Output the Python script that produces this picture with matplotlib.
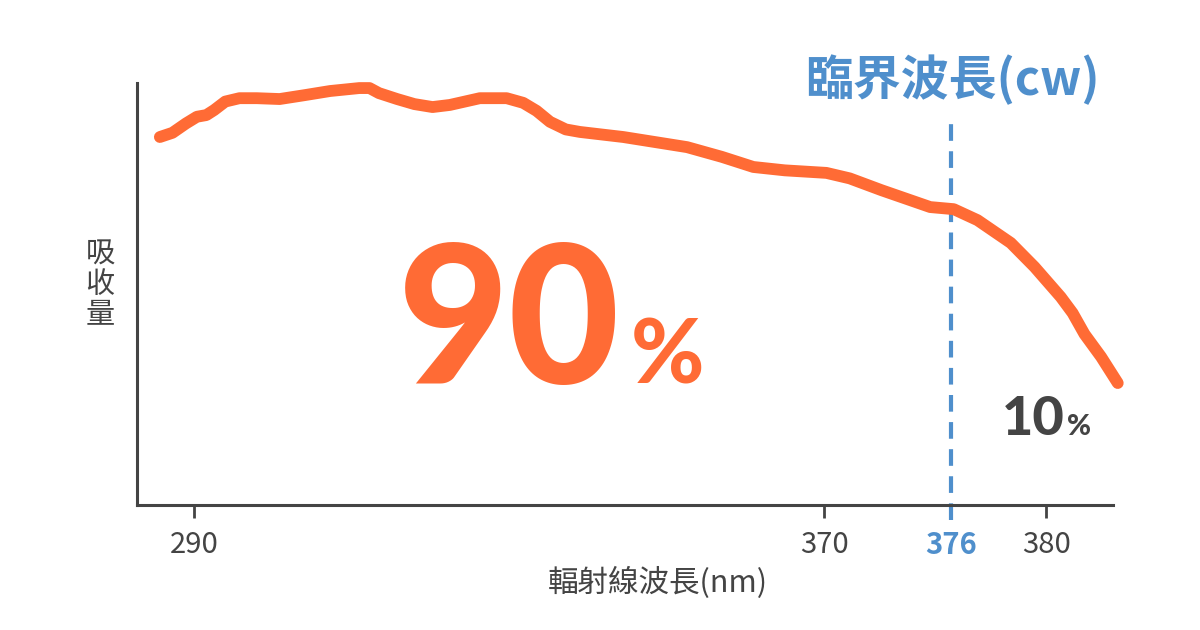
import numpy as np
import matplotlib
matplotlib.use("Agg")
import matplotlib.pyplot as plt

plt.rcParams['font.family'] = ['Noto Sans CJK TC', 'DejaVu Sans']

# absorption curve (wavelength nm, relative absorbance 0-100)
wavelength = [285.7, 287.3, 289.0, 290.4, 291.6, 292.6, 294.0, 295.8, 298.0, 300.9,
              304.0, 307.3, 311.0, 312.3, 313.5, 315.8, 318.0, 320.3, 322.5, 326.3,
              329.7, 331.8, 333.5, 335.2, 337.2, 339.0, 344.5, 352.6, 357.0, 361.0,
              365.0, 370.1, 371.2, 372.7, 375.0, 376.1, 377.1, 378.5, 379.5, 380.6,
              381.1, 381.6, 382.3, 383.0]
absorb = [87.2, 88.2, 90.4, 92.0, 92.4, 93.6, 95.6, 96.4, 96.4, 96.2,
          97.1, 98.1, 98.8, 98.8, 97.6, 96.2, 95.0, 94.3, 94.8, 96.4,
          96.4, 95.3, 93.4, 90.8, 89.0, 88.4, 87.2, 84.8, 82.5, 80.1,
          79.3, 78.7, 77.4, 74.6, 70.6, 70.1, 67.5, 62.1, 56.4, 49.3,
          45.5, 40.5, 35.1, 28.9]
ticks = [290, 370, 380]
cw = 376

ORANGE = '#FF6B35'
BLUE = '#4F8FCC'
GRAY = '#444444'

# the original axis is stretched near the critical wavelength
knots = np.array([290, 370, 376, 380])
pos = np.array([0, 630, 757, 852])


def fwd(w):
    w = np.asarray(w, dtype=float)
    return np.where(w < 290, (w - 290) * 7.875,
                    np.where(w > 380, 852 + (w - 380) * 23.75, np.interp(w, knots, pos)))


def inv(p):
    p = np.asarray(p, dtype=float)
    return np.where(p < 0, 290 + p / 7.875,
                    np.where(p > 852, 380 + (p - 852) / 23.75, np.interp(p, pos, knots)))


fig = plt.figure(figsize=(12, 6.3), dpi=100)
W, H = 1200, 630
ax = fig.add_axes([137 / W, 1 - 505 / H, (1113 - 137) / W, (505 - 83) / H])
ax.set_xscale('function', functions=(fwd, inv))
ax.set_xlim(282.8, 382.8)
ax.set_ylim(0, 100)

ax.plot(wavelength, absorb, color=ORANGE, lw=8.5, solid_capstyle='round',
        solid_joinstyle='round', clip_on=False, zorder=3)

ax.plot([cw, cw], [-3.5, 90.5], color=BLUE, lw=3, dashes=(4, 2.5), clip_on=False, zorder=2)

for s in ['top', 'right']:
    ax.spines[s].set_visible(False)
for s in ['left', 'bottom']:
    ax.spines[s].set_color(GRAY)
    ax.spines[s].set_linewidth(2.2)

ax.set_yticks([])
ax.set_xticks(ticks + [cw])
ax.set_xticklabels([str(t) for t in ticks] + [str(cw)])
ax.tick_params(axis='x', length=9, width=2, color=GRAY, labelcolor=GRAY,
               labelsize=21, pad=9)
lab = ax.get_xticklabels()[-1]
lab.set_color(BLUE)
lab.set_fontweight('bold')
ax.xaxis.get_major_ticks()[-1].tick1line.set_visible(False)

fig.text(658 / W, 1 - 583 / H, '輻射線波長(nm)', ha='center', va='center',
         fontsize=22, color=GRAY)
fig.text(100 / W, 1 - 285 / H, '吸\n收\n量', ha='center', va='center',
         fontsize=21, color=GRAY, linespacing=1.0)

fig.text(952 / W, 1 - 80 / H, '臨界波長(cw)', ha='center', va='center',
         fontsize=34.5, color=BLUE, fontweight='bold')

fig.text(398 / W, 1 - 383 / H, '90', ha='left', va='baseline', fontsize=138,
         color=ORANGE, fontweight='black', family=['Lato', 'DejaVu Sans'])
fig.text(631 / W, 1 - 383 / H, '%', ha='left', va='baseline', fontsize=64,
         color=ORANGE, fontweight='black', family=['Lato', 'DejaVu Sans'])

fig.text(1002 / W, 1 - 435 / H, '10', ha='left', va='baseline', fontsize=39,
         color=GRAY, fontweight='black', family=['Lato', 'DejaVu Sans'])
fig.text(1067 / W, 1 - 435 / H, '%', ha='left', va='baseline', fontsize=21,
         color=GRAY, fontweight='black', family=['Lato', 'DejaVu Sans'])

fig.savefig('out.png', dpi=100)
